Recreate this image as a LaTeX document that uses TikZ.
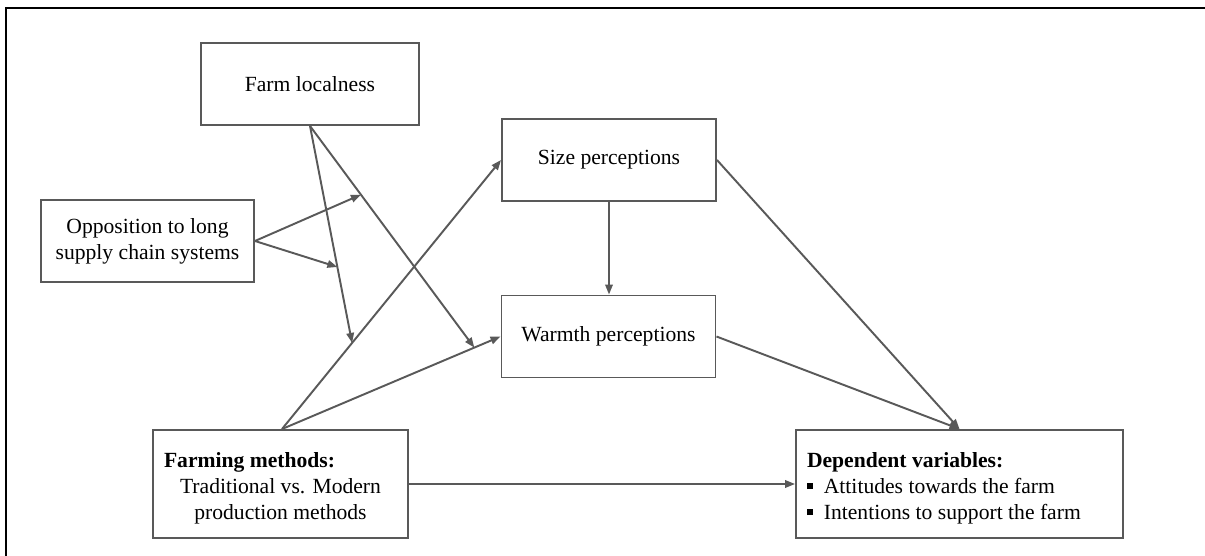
\documentclass[tikz,border=0pt]{standalone}
\usepackage{fontspec}
\setmainfont{Liberation Serif}
\usepackage{xcolor}
\usetikzlibrary{arrows.meta, positioning, calc}

\definecolor{linegray}{RGB}{89,89,89}

\begin{document}
\begin{tikzpicture}[
    box/.style={draw=linegray, line width=1.1pt, minimum height=1.64cm, inner sep=0pt,
        align=flush center, font=\fontsize{12.3}{14.8}\selectfont},
    arr/.style={draw=linegray, line width=1.1pt, -{Triangle[length=2mm,width=1.5mm]}}
]
\useasboundingbox (0,0) rectangle (24.1,-11.12);
\draw[line width=1.2pt] (24.1,-0.16) -- (0.12,-0.16) -- (0.12,-11.12);

% Boxes
\node[box, minimum width=4.36cm] (local) at (6.2,-1.68) {Farm localness};
\node[box, minimum width=4.26cm] (opp) at (2.95,-4.82) {Opposition to long\\supply chain systems};
\node[box, minimum width=4.28cm] (size) at (12.18,-3.2) {Size perceptions};
\node[box, minimum width=4.28cm] (warm) at (12.17,-6.73) {Warmth perceptions};
\node[box, text width=4.66cm, inner xsep=0.22cm, minimum height=2.16cm] (meth) at (5.61,-9.68)
    {\makebox[4.66cm][l]{\rule{0pt}{0.49cm}\textbf{Farming methods:}}\\Traditional vs. Modern\\production methods};
\node[box, align=flush left, text width=6.1cm, inner xsep=0.22cm, minimum height=2.16cm] (dep) at (19.19,-9.68)
    {\rule{0pt}{0.49cm}\textbf{Dependent variables:}\\
     \rule[0.22em]{0.28em}{0.28em}\hspace{0.5em}Attitudes towards the farm\\
     \rule[0.22em]{0.28em}{0.28em}\hspace{0.5em}Intentions to support the farm};

% Paths
\coordinate (methtop) at ($(meth.north)+(0.03,0)$);
\draw[arr] (methtop) -- coordinate[pos=0.32] (m1) (size.west);
\draw[arr] (methtop) -- coordinate[pos=0.88] (m2) (warm.west);
\draw[arr] (local.south) -- coordinate[pos=0.65] (m3) (m1);
\draw[arr] (local.south) -- coordinate[pos=0.31] (m4) (m2);
\draw[arr] (opp.east) -- (m4);
\draw[arr] (opp.east) -- (m3);
\draw[arr] (size.south) -- (size.south |- warm.north);
\draw[arr] (size.east) -- (dep.north);
\draw[arr] (warm.east) -- (dep.north);
\draw[arr] (meth.east) -- (dep.west);
\end{tikzpicture}
\end{document}
